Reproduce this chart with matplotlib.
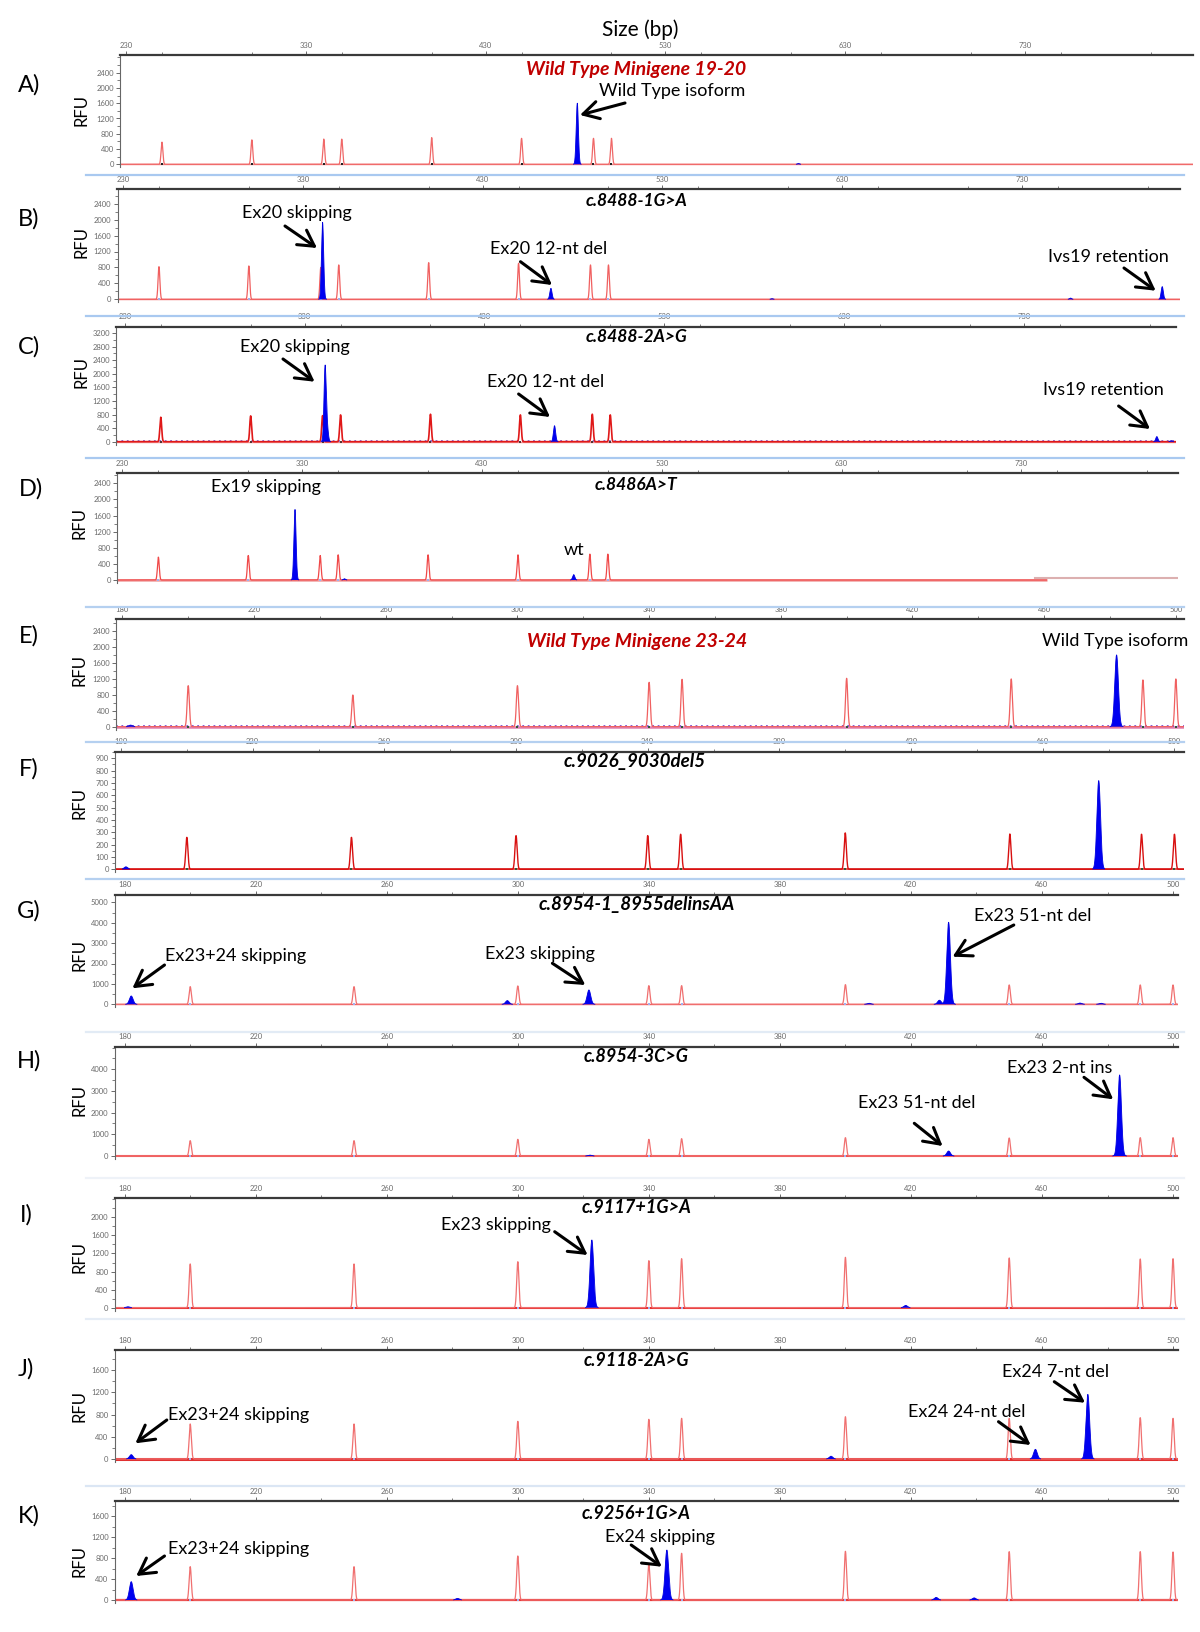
import numpy as np
import matplotlib
matplotlib.use('Agg')
import matplotlib.pyplot as plt
from matplotlib.ticker import MultipleLocator

W, H = 1200, 1632
plt.rcParams['font.family'] = ['Lato', 'DejaVu Sans']

# ---------------- data ----------------
ladder_19_20 = [250, 300, 340, 350, 400, 450, 490, 500]
ladder_23_24 = [200, 250, 300, 340, 350, 400, 450, 490, 500]

A_ladder_h = [580, 640, 660, 660, 700, 680, 680, 680]
A_blue_bp = [481, 604]
A_blue_h = [1600, 20]

B_ladder_h = [820, 837, 800, 862, 920, 904, 862, 862]
B_blue_bp = [341, 468, 808, 757, 591]
B_blue_h = [1930, 275, 318, 30, 15]

C_ladder_h = [719, 759, 768, 788, 808, 788, 808, 788]
C_blue_bp = [341.4, 342.6, 469, 804, 812]
C_blue_h = [2200, 400, 470, 150, 30]

D_ladder_h = [567, 608, 608, 625, 625, 625, 642, 642]
D_blue_bp = [326, 481, 353.5]
D_blue_h = [1750, 133, 30]
D_step_bp = 737.5
D_base_end_bp = 744
D_step_h = 57

E_ladder_h = [1029, 795, 1029, 1113, 1188, 1213, 1197, 1172, 1197]
E_blue_bp = [482, 182.5]
E_blue_h = [1800, 40]

F_ladder_h = [259, 259, 273, 273, 284, 295, 286, 284, 284]
F_blue_bp = [477, 181.5]
F_blue_h = [719, 20]

G_ladder_h = [866, 866, 899, 915, 915, 964, 948, 948, 948]
G_blue_bp = [182, 296.8, 321.7, 407.2, 428.7, 431.5, 471.6, 478]
G_blue_h = [408, 180, 703, 50, 200, 4020, 60, 50]

H_ladder_h = [708, 708, 769, 769, 800, 846, 830, 846, 846]
H_blue_bp = [322, 431.5, 483.7]
H_blue_h = [40, 230, 3738]

I_ladder_h = [967, 967, 1018, 1041, 1085, 1114, 1100, 1077, 1085]
I_blue_bp = [322.6, 418.4, 181]
I_blue_h = [1498, 50, 20]

J_ladder_h = [629, 629, 677, 713, 731, 760, 731, 743, 731]
J_blue_bp = [182, 395.6, 458, 474]
J_blue_h = [78, 50, 174, 1162]

K_ladder_h = [635, 635, 838, 679, 889, 927, 921, 921, 914]
K_blue_bp = [182, 345.5, 427.7, 439.3, 281.6]
K_blue_h = [349, 952, 50, 40, 30]

panel_letters = ['A)', 'B)', 'C)', 'D)', 'E)', 'F)', 'G)', 'H)', 'I)', 'J)', 'K)']
panel_titles = ['Wild Type Minigene 19-20', 'c.8488-1G>A', 'c.8488-2A>G', 'c.8486A>T',
                'Wild Type Minigene 23-24', 'c.9026_9030del5', 'c.8954-1_8955delinsAA',
                'c.8954-3C>G', 'c.9117+1G>A', 'c.9118-2A>G', 'c.9256+1G>A']

# ---------------- layout (pixels) ----------------
# left, right, top, y0(baseline), ytop_px, ytop_val, ystep, xlabel_px, xlabel_val, px_per_bp, xstep
layout = {
    'A': (120, 1193, 55, 164.3, 72.7, 2400, 400, 126, 230, 1.798, 100),
    'B': (117.5, 1180, 189, 299.3, 203.7, 2400, 400, 123, 230, 1.798, 100),
    'C': (116, 1176, 326.7, 441.7, 333, 3200, 400, 124.8, 230, 1.798, 100),
    'D': (117, 1178, 473.3, 580, 483.3, 2400, 400, 122.4, 230, 1.798, 100),
    'E': (116.3, 1184, 619, 726.7, 631, 2400, 400, 122.4, 180, 3.292, 40),
    'F': (115, 1184, 751.7, 869.3, 758.3, 900, 100, 121, 180, 3.292, 40),
    'G': (114.8, 1178, 894.7, 1004.3, 902.3, 5000, 1000, 124.7, 180, 3.276, 40),
    'H': (114.8, 1178, 1046.7, 1156, 1069.3, 4000, 1000, 124.7, 180, 3.276, 40),
    'I': (114.8, 1178, 1198.3, 1307.7, 1217.3, 2000, 400, 124.7, 180, 3.276, 40),
    'J': (114.8, 1178, 1350, 1459, 1370, 1600, 400, 124.7, 180, 3.276, 40),
    'K': (114.8, 1178, 1501, 1600, 1516, 1600, 400, 124.7, 180, 3.276, 40),
}

fig = plt.figure(figsize=(W / 100, H / 100), dpi=100)


def gauss_trace(x, pos, hts, sig):
    y = np.zeros_like(x)
    for p, h in zip(pos, hts):
        y += h * np.exp(-0.5 * ((x - p) / sig) ** 2)
    return y


def make_panel(key, ladder, ladder_h, blue_bp, blue_h, red_col='#f06868', red_lw=0.9,
               base_col='#f07070', base_lw=1.0, noise=None, base_end=None, mark_col='#222222'):
    (left, right, top, y0, ytp, ytv, ystep, xlp, xlv, s, xstep) = layout[key]
    bottom_px = y0 + 3
    ax = fig.add_axes([left / W, 1 - bottom_px / H, (right - left) / W, (bottom_px - top) / H])
    scale = (y0 - ytp) / ytv
    ax.set_ylim(-3 / scale, (y0 - top) / scale)
    xmin = xlv - (xlp - left) / s
    xmax = xlv + (right - xlp) / s
    ax.set_xlim(xmin, xmax)
    fine = xstep < 50
    x = np.linspace(xmin, xmax, 30000)
    red = gauss_trace(x, ladder, ladder_h, 0.33 if fine else 0.5)
    blue = gauss_trace(x, blue_bp, blue_h, 0.55 if fine else 0.6)
    bend = xmax if base_end is None else base_end
    ax.plot([xmin, bend], [0, 0], color=base_col, lw=base_lw, zorder=1, solid_capstyle='butt')
    if noise is not None:
        ax.plot([xmin, xmax], [noise[0], noise[0]], color=noise[1], lw=1.3,
                ls=(0, (1, 2)), zorder=1.5)
    sel = x <= bend
    ax.plot(x[sel], red[sel], color=red_col, lw=red_lw, zorder=2)
    ax.plot(ladder, np.zeros(len(ladder)), ls='none', marker='s', ms=1.5, color=mark_col,
            zorder=2.5, mew=0)
    ax.fill_between(x, 0, blue, where=blue > 3, color='#0000f0', lw=0, zorder=3)
    ax.plot(x, np.where(blue > 3, blue, np.nan), color='#0000e0', lw=0.6, zorder=3)
    # axes styling
    for sp in ['bottom', 'right']:
        ax.spines[sp].set_visible(False)
    ax.spines['top'].set_color('#3a3a3a')
    ax.spines['top'].set_linewidth(1.6)
    ax.spines['left'].set_color('#666666')
    ax.spines['left'].set_linewidth(0.8)
    ax.xaxis.tick_top()
    ax.set_xticks(np.arange(xlv, xmax, xstep))
    ax.xaxis.set_minor_locator(MultipleLocator(xstep / 2))
    ax.set_yticks(np.arange(0, ytv + 1, ystep))
    ax.yaxis.set_minor_locator(MultipleLocator(ystep / 2))
    ax.tick_params(axis='both', which='major', labelsize=5.5, colors='#6a6a6a',
                   length=3, width=0.7, pad=1.5)
    ax.tick_params(axis='both', which='minor', colors='#6a6a6a', length=2, width=0.6)
    ax.set_facecolor('none')
    return ax


make_panel('A', ladder_19_20, A_ladder_h, A_blue_bp, A_blue_h, red_col='#f06868', base_col='#f08888')
make_panel('B', ladder_19_20, B_ladder_h, B_blue_bp, B_blue_h, red_col='#f06060', base_col='#f07070',
           mark_col='#a0b0f0')
make_panel('C', ladder_19_20, C_ladder_h, C_blue_bp, C_blue_h, red_col='#e01818', red_lw=1.2,
           base_col='#f09090', noise=(15, '#8060d0'), mark_col='#553333')
dax = make_panel('D', ladder_19_20, D_ladder_h, D_blue_bp, D_blue_h, red_col='#f04848',
                 base_col='#f0a0a0', base_lw=1.8, base_end=D_base_end_bp, mark_col='#a0b0f0')
dax.plot([D_step_bp, dax.get_xlim()[1]], [D_step_h, D_step_h], color='#dcb0b0', lw=1.5, zorder=1)
make_panel('E', ladder_23_24, E_ladder_h, E_blue_bp, E_blue_h, red_col='#f06060',
           base_col='#e080b0', base_lw=1.8, noise=(25, '#8050d0'), mark_col='#2e5a3a')
make_panel('F', ladder_23_24, F_ladder_h, F_blue_bp, F_blue_h, red_col='#d81010', red_lw=1.0,
           base_col='#e03030', base_lw=1.2, mark_col='#2e5a3a')
make_panel('G', ladder_23_24, G_ladder_h, G_blue_bp, G_blue_h, red_col='#f07070', base_col='#f06060',
           mark_col='#a0b0f0')
make_panel('H', ladder_23_24, H_ladder_h, H_blue_bp, H_blue_h, red_col='#f07070', base_col='#f05050',
           base_lw=1.5, mark_col='#a0b0f0')
make_panel('I', ladder_23_24, I_ladder_h, I_blue_bp, I_blue_h, red_col='#f07070', base_col='#e83030',
           base_lw=1.5, mark_col='#a0b0f0')
make_panel('J', ladder_23_24, J_ladder_h, J_blue_bp, J_blue_h, red_col='#f07070', base_col='#e03030',
           base_lw=2.2, mark_col='#a0b0f0')
make_panel('K', ladder_23_24, K_ladder_h, K_blue_bp, K_blue_h, red_col='#f07070', base_col='#e83838',
           base_lw=1.6, mark_col='#a0b0f0')

# ---------------- overlay for text / arrows (pixel coords) ----------------
ov = fig.add_axes([0, 0, 1, 1], zorder=10)
ov.set_xlim(0, W)
ov.set_ylim(H, 0)
ov.axis('off')
ov.patch.set_alpha(0)

# light blue separator lines
for yy, col in [(175, '#a9c9f0'), (315.7, '#a9c9f0'), (458.3, '#a9c9f0'), (606.7, '#b5d0f0'),
                (741.7, '#b5d0f0'), (879.3, '#b5d0f0'), (1031.7, '#e2ebf5'), (1178, '#eef2f8'),
                (1319, '#e6edf6'), (1486, '#dbe6f4')]:
    ov.plot([86, 1184], [yy, yy], color=col, lw=1.6)

ov.text(640, 30, 'Size (bp)', fontsize=15, ha='center', va='center')

letter_pos = [(29, 85), (29, 219), (29, 347), (31, 489), (29, 636), (29, 769), (29, 911),
              (29, 1061), (26, 1215), (26, 1369), (29, 1516)]
for (lx, ly), lt in zip(letter_pos, panel_letters):
    ov.text(lx, ly, lt, fontsize=17, ha='center', va='center')

rfu_pos = [(82, 110), (82, 242), (82, 372), (80, 523), (80, 670), (80, 803), (80, 955),
           (80, 1100), (80, 1257), (80, 1406), (80, 1561)]
for rx, ry in rfu_pos:
    ov.text(rx, ry, 'RFU', fontsize=12, rotation=90, ha='center', va='center')

title_pos = [(636, 70), (637, 200.7), (637, 336.7), (636, 485), (637, 641.7), (635, 761.7),
             (636.6, 904.3), (636.6, 1056), (636.6, 1207.7), (636.6, 1360), (636.6, 1513.3)]
title_size = [14, 12.5, 12.5, 12.5, 14, 13.5, 13.5, 13, 13, 13, 13]
for (tx, ty), tt, fs in zip(title_pos, panel_titles, title_size):
    col = '#c00000' if tt.startswith('Wild') else 'black'
    ov.text(tx, ty, tt, fontsize=fs, fontweight='bold', fontstyle='italic', color=col,
            ha='center', va='center')

labels = [
    ('Wild Type isoform', 672, 91), ('Ex20 skipping', 296.6, 213), ('Ex20 12-nt del', 549, 249),
    ('Ivs19 retention', 1108, 257), ('Ex20 skipping', 294.7, 346.7), ('Ex20 12-nt del', 546, 382),
    ('Ivs19 retention', 1103, 390), ('Ex19 skipping', 266, 486.7), ('wt', 574, 550),
    ('Wild Type isoform', 1115.5, 640.7), ('Ex23+24 skipping', 235.7, 956), ('Ex23 skipping', 540, 954),
    ('Ex23 51-nt del', 1033, 916), ('Ex23 2-nt ins', 1059.7, 1068.3), ('Ex23 51-nt del', 916.6, 1103.3),
    ('Ex23 skipping', 495.8, 1225), ('Ex23+24 skipping', 238.7, 1415), ('Ex24 7-nt del', 1055.8, 1371.7),
    ('Ex24 24-nt del', 966.3, 1411.7), ('Ex24 skipping', 659.5, 1537.3), ('Ex23+24 skipping', 238.7, 1549.3),
]
for t, tx, ty in labels:
    ov.text(tx, ty, t, fontsize=13, ha='center', va='center')

arrows = [
    ((625, 103), (580, 115)),
    ((285, 226), (317, 248)), ((520.5, 261.7), (552, 285)), ((1124, 268), (1155.7, 290.7)),
    ((283, 359), (314.6, 381.7)), ((518.6, 394), (550, 417)), ((1118.6, 406), (1150, 429)),
    ((164.5, 965), (132.4, 988.3)), ((552.4, 963.3), (585.3, 985)), ((1013.8, 925), (952.6, 956.7)),
    ((1084, 1077.3), (1113.2, 1099.3)), ((914.3, 1123.3), (942.6, 1146)),
    ((554.7, 1231.7), (587.6, 1255)),
    ((166.8, 1420), (135.4, 1443.3)), ((1054.3, 1381.7), (1085, 1402.7)), ((998.5, 1421.7), (1030.6, 1445)),
    ((631.2, 1545), (661.8, 1566.7)), ((164.5, 1556), (136.2, 1576)),
]
for tail, head in arrows:
    ov.annotate('', xy=head, xytext=tail,
                arrowprops=dict(arrowstyle='->,head_length=0.8,head_width=0.45', lw=2.2,
                                color='black', mutation_scale=14, shrinkA=0, shrinkB=0))

fig.savefig('out.png', dpi=100)
